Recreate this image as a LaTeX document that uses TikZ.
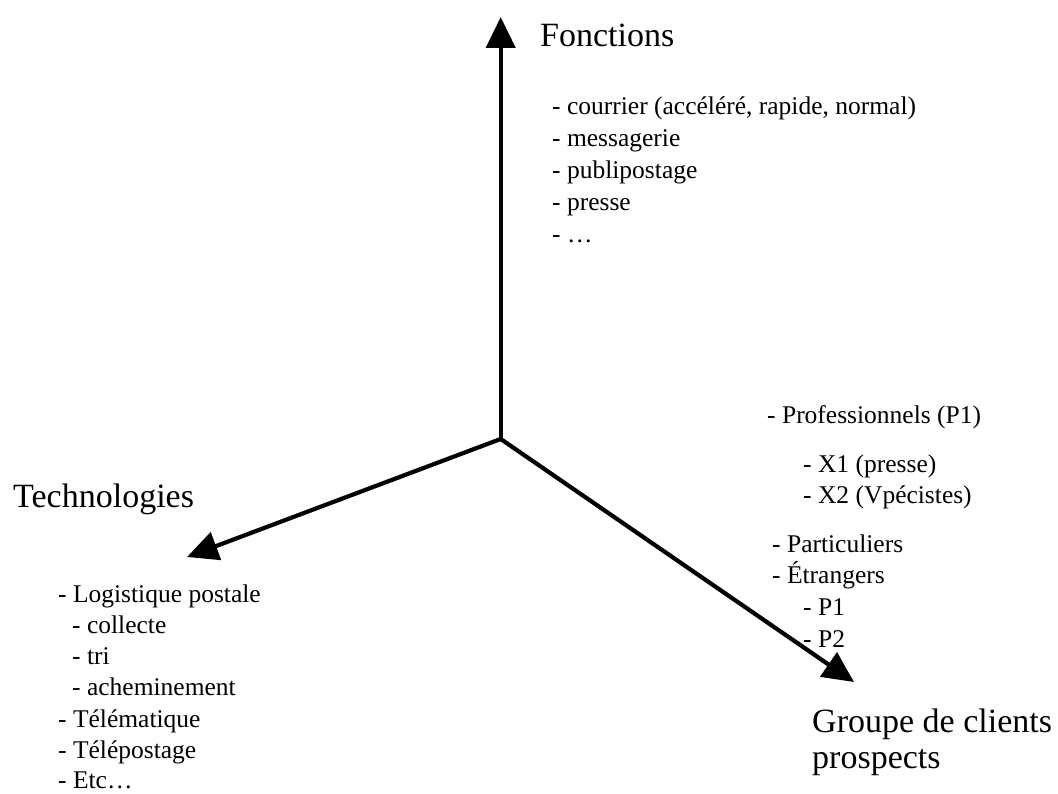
\documentclass[tikz,border=0pt]{standalone}
\usepackage{fontspec}
\setmainfont{Liberation Serif}
\usetikzlibrary{arrows.meta}
\begin{document}
\begin{tikzpicture}[x=1pt,y=-1pt,
  axis/.style={line width=4.2pt,-{Triangle[length=31pt,width=29pt]}},
  title/.style={anchor=base west,inner sep=0pt,font=\fontsize{34}{38}\selectfont},
  item/.style={anchor=base west,inner sep=0pt,font=\fontsize{25.5}{31}\selectfont}]
  \useasboundingbox (0,0) rectangle (1058,794);

  % origin and the three axis ends
  \coordinate (o) at (500.7,439);
  \coordinate (fn) at (500.7,17);
  \coordinate (tc) at (187,557);
  \coordinate (gc) at (854,682);

  \draw[axis] (o) -- (fn);
  \draw[axis] (o) -- (tc);
  \draw[axis] (o) -- (gc);

  % axis titles
  \node[title] (tf) at (540,47) {Fonctions};
  \node[title] (tt) at (13,507) {Technologies};
  \node[title] (tg1) at (812,732) {Groupe de clients};
  \node[title] (tg2) at (812,768) {prospects};

  % functions
  \node[item] (f1) at (552,115) {- courrier (accéléré, rapide, normal)};
  \node[item] (f2) at (552,147) {- messagerie};
  \node[item] (f3) at (552,179) {- publipostage};
  \node[item] (f4) at (552,211) {- presse};
  \node[item] (f5) at (552,243) {- …};

  % technologies
  \node[item] (t1) at (58,602) {- Logistique postale};
  \node[item] (t2) at (72,633) {- collecte};
  \node[item] (t3) at (72,664) {- tri};
  \node[item] (t4) at (72,695.5) {- acheminement};
  \node[item] (t5) at (58,727) {- Télématique};
  \node[item] (t6) at (58,758.5) {- Télépostage};
  \node[item] (t7) at (58,788) {- Etc…};

  % client groups
  \node[item] (g1) at (767,423) {- Professionnels (P1)};
  \node[item] (g2) at (803,472) {- X1 (presse)};
  \node[item] (g3) at (803,503) {- X2 (Vpécistes)};
  \node[item] (g4) at (772,552) {- Particuliers};
  \node[item] (g5) at (772,583) {- Étrangers};
  \node[item] (g6) at (803,615) {- P1};
  \node[item] (g7) at (803,647) {- P2};
\end{tikzpicture}
\end{document}
